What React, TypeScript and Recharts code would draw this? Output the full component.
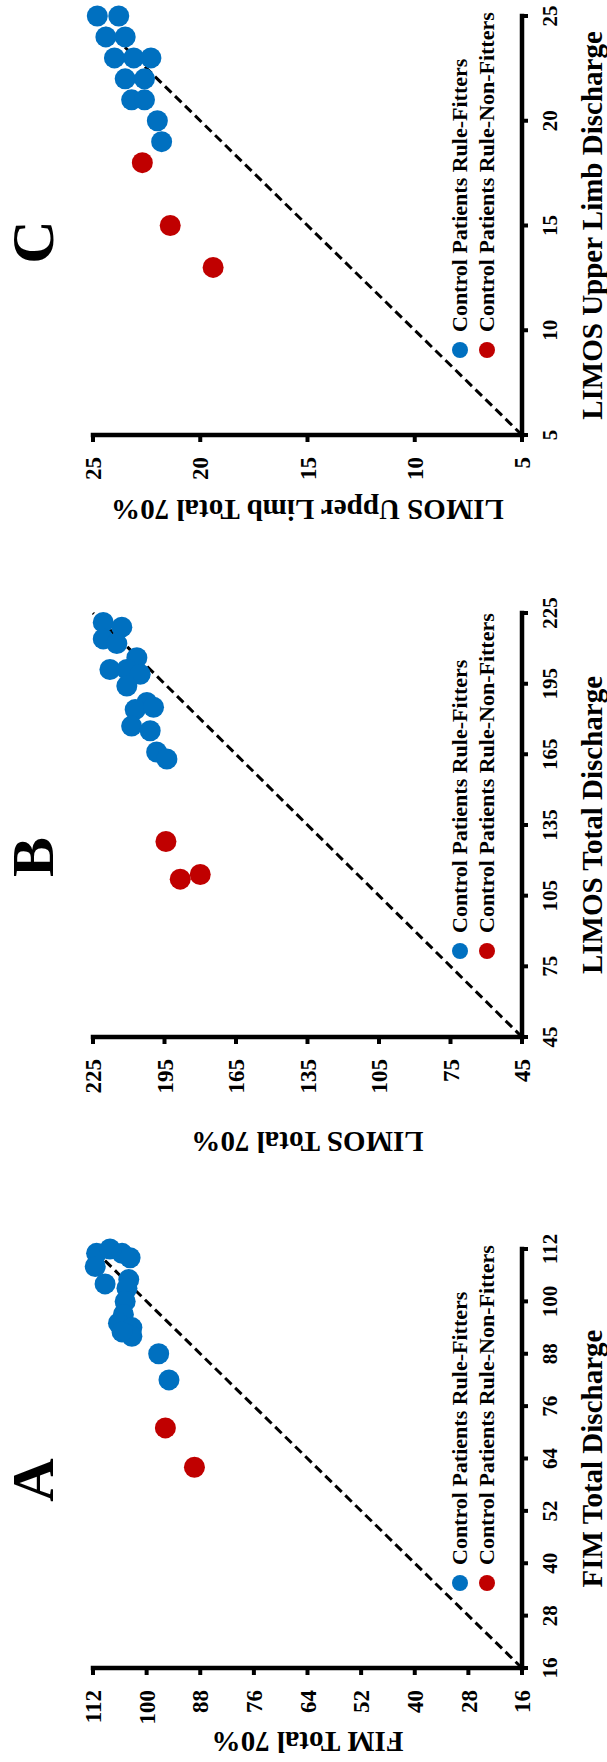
import { Legend, ReferenceLine, Scatter, ScatterChart, XAxis, YAxis } from "recharts";

const FONT = "'Liberation Serif', 'Times New Roman', serif";
const BLUE = "#0070C0";
const RED = "#C00000";

// FIM: discharge score vs 70% target
const fimTicks = [16, 28, 40, 52, 64, 76, 88, 100, 112];
const fimDischargeFit = [111, 112, 111, 110, 108, 104, 105, 103, 100, 97, 95, 94, 92, 93, 88, 82];
const fim70Fit = [111.2, 108.2, 105.5, 103.7, 111.5, 109.3, 104.0, 104.4, 104.8, 105.2, 106.3, 103.3, 103.3, 105.5, 97.3, 95.0];
const fimDischargeNonFit = [71, 62];
const fim70NonFit = [95.8, 89.3];

// LIMOS total
const limosTicks = [45, 75, 105, 135, 165, 195, 225];
const limosDischargeFit = [221, 219, 214, 212, 206, 201, 201, 199, 194, 187, 184, 185, 177, 175, 166, 163];
const limos70Fit = [220.7, 212.9, 220.7, 215.0, 206.6, 217.9, 210.8, 205.2, 210.8, 202.4, 207.3, 199.6, 208.8, 201.0, 198.3, 194.0];
const limosDischargeNonFit = [128, 112, 114];
const limos70NonFit = [194.4, 188.4, 180.0];

// LIMOS upper limb
const upperTicks = [5, 10, 15, 20, 25];
const upperDischargeFit = [25, 25, 24, 24, 23, 23, 23, 22, 22, 21, 21, 20, 19];
const upper70Fit = [24.8, 23.8, 24.4, 23.5, 24.0, 23.1, 22.3, 23.5, 22.6, 23.2, 22.6, 22.0, 21.8];
const upperDischargeNonFit = [18, 15, 13];
const upper70NonFit = [22.7, 21.4, 19.4];

const zip = (xs: number[], ys: number[]) => xs.map((x, i) => ({ x, y: ys[i] }));

const panels = [
  {
    letter: "A", left: 0, width: 560, margin: { top: 93, right: 47, bottom: 0, left: 0 }, yWidth: 94,
    ticks: fimTicks, xTitle: "FIM Total Discharge", yTitle: "FIM Total 70%", yGap: 64,
    fit: zip(fimDischargeFit, fim70Fit), nonFit: zip(fimDischargeNonFit, fim70NonFit),
    legendLeft: 171, letterX: 282,
  },
  {
    letter: "B", left: 560, width: 620, margin: { top: 93, right: 31, bottom: 0, left: 70 }, yWidth: 95,
    ticks: limosTicks, xTitle: "LIMOS Total Discharge", yTitle: "LIMOS Total 70%", yGap: 95,
    fit: zip(limosDischargeFit, limos70Fit), nonFit: zip(limosDischargeNonFit, limos70NonFit),
    legendLeft: 243, letterX: 905,
  },
  {
    letter: "C", left: 1180, width: 582, margin: { top: 93, right: 16, bottom: 0, left: 53 }, yWidth: 94,
    ticks: upperTicks, xTitle: "LIMOS Upper Limb Discharge", yTitle: "LIMOS Upper Limb Total 70%", yGap: 65,
    fit: zip(upperDischargeFit, upper70Fit), nonFit: zip(upperDischargeNonFit, upper70NonFit),
    legendLeft: 224, letterX: 1520,
  },
];

const Dot = (props: any) => <circle cx={props.cx} cy={props.cy} r={10.5} fill={props.fill} />;

const XTitle = ({ viewBox, text }: any) => (
  <text x={viewBox.x + viewBox.width / 2} y={viewBox.y + 80} textAnchor="middle"
    fontSize={29} fontWeight={700} fill="#000">{text}</text>
);

const YTitle = ({ viewBox, text, gap }: any) => {
  const cx = viewBox.x + viewBox.width - gap;
  const cy = viewBox.y + viewBox.height / 2;
  return (
    <text x={cx} y={cy} transform={`rotate(-90 ${cx} ${cy})`} textAnchor="middle"
      fontSize={29} fontWeight={700} fill="#000">{text}</text>
  );
};

const LegendBox = ({ payload }: any) => (
  <div style={{ fontFamily: FONT, fontWeight: 700, fontSize: 22, color: "#000" }}>
    {(payload || []).map((e: any) => (
      <div key={e.value} style={{ display: "flex", alignItems: "center", height: 27, whiteSpace: "nowrap" }}>
        <span style={{ width: 16, height: 16, borderRadius: "50%", background: e.color, marginRight: 10, flex: "none" }} />
        {e.value}
      </div>
    ))}
  </div>
);

const axisLine = { stroke: "#000", strokeWidth: 4.5, strokeLinecap: "square" as const };
const tickLine = { stroke: "#000", strokeWidth: 4 };

export default function App() {
  return (
    <div style={{ position: "absolute", top: 0, left: 0, width: 607, height: 1762, overflow: "hidden", background: "#fff", fontFamily: FONT }}>
      <div style={{ position: "absolute", top: 0, left: 0, width: 1762, height: 607, transformOrigin: "0 0", transform: "translateY(1762px) rotate(-90deg)" }}>
        {panels.map((p) => {
          const lo = p.ticks[0];
          const hi = p.ticks[p.ticks.length - 1];
          return (
            <div key={p.letter} style={{ position: "absolute", top: 0, left: p.left, width: p.width, height: 607 }}>
              <ScatterChart width={p.width} height={607} margin={p.margin}>
                <XAxis type="number" dataKey="x" domain={[lo, hi]} ticks={p.ticks} interval={0} height={85}
                  axisLine={axisLine} tickLine={tickLine} tickSize={6} tickMargin={14}
                  tick={{ fontSize: 21, fontWeight: 700, fill: "#000" }}
                  label={<XTitle text={p.xTitle} />} />
                <YAxis type="number" dataKey="y" domain={[lo, hi]} ticks={p.ticks} interval={0} width={p.yWidth}
                  axisLine={axisLine} tickLine={tickLine} tickSize={7} tickMargin={15}
                  tick={{ fontSize: 23, fontWeight: 700, fill: "#000" }}
                  label={<YTitle text={p.yTitle} gap={p.yGap} />} />
                <Legend layout="vertical" align="center" verticalAlign="middle" content={<LegendBox />}
                  wrapperStyle={{ left: p.legendLeft, top: 446, width: 360 }} />
                <Scatter name="Control Patients Rule-Fitters" data={p.fit} fill={BLUE} shape={Dot} isAnimationActive={false} />
                <Scatter name="Control Patients Rule-Non-Fitters" data={p.nonFit} fill={RED} shape={Dot} isAnimationActive={false} />
                <ReferenceLine segment={[{ x: lo, y: lo }, { x: hi, y: hi }]} stroke="#000" strokeWidth={3} strokeDasharray="9 5" />
              </ScatterChart>
              <div style={{ position: "absolute", top: 3, left: p.letterX - p.left - 50, width: 100, textAlign: "center", fontSize: 60, fontWeight: 700, lineHeight: 1 }}>
                {p.letter}
              </div>
            </div>
          );
        })}
      </div>
    </div>
  );
}
